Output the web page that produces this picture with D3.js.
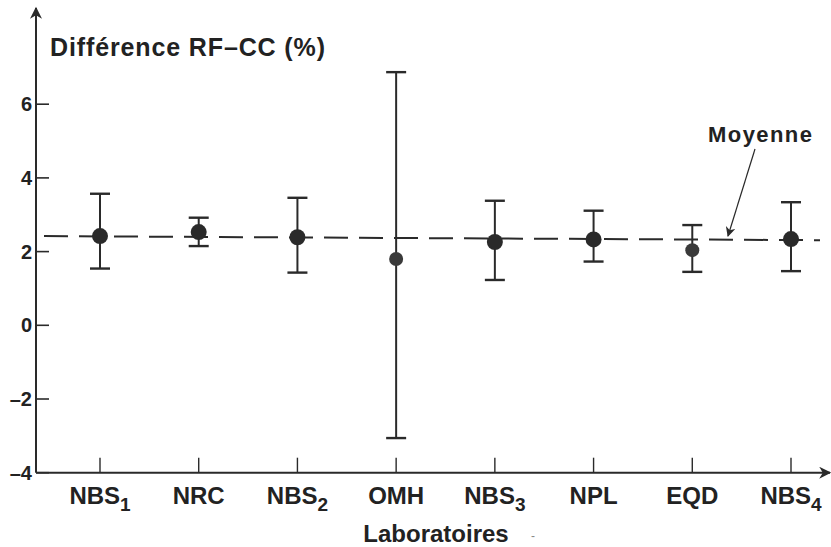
<!DOCTYPE html>
<meta charset="utf-8">
<script src="https://d3js.org/d3.v7.min.js"></script>
<style>
body { margin: 0; background: #fff; }
text { fill: #222; font-family: "Liberation Sans", Arial, sans-serif; }
.lbl { font-weight: bold; }
.narrow { font-family: "Liberation Sans Narrow", "Liberation Sans", sans-serif; }
</style>
<body>
<script>
// data
var labs = ['NBS1', 'NRC', 'NBS2', 'OMH', 'NBS3', 'NPL', 'EQD', 'NBS4'];
var labBase = ['NBS', 'NRC', 'NBS', 'OMH', 'NBS', 'NPL', 'EQD', 'NBS'];
var labSub = ['1', '', '2', '', '3', '', '', '4'];
var diff = [2.42, 2.53, 2.39, 1.80, 2.26, 2.33, 2.04, 2.34];
var upper = [3.57, 2.92, 3.46, 6.87, 3.38, 3.11, 2.72, 3.34];
var lower = [1.54, 2.15, 1.43, -3.06, 1.23, 1.73, 1.45, 1.47];
var moyenne = [2.42, 2.31]; // dashed mean line, left end / right end
var yTicks = [6, 4, 2, 0, -2, -4];

var W = 831, H = 547;
var svg = d3.select('body').append('svg')
    .attr('width', W)
    .attr('height', H);

var x = d3.scalePoint().domain(labs).range([100, 791]);
var y = d3.scaleLinear().domain([-4, 6]).range([472.7, 104.2]);
var x0 = 36, xEnd = 830;
var ink = '#2a2a2a';

// arrow markers
var defs = svg.append('defs');
defs.append('marker')
    .attr('id', 'ah')
    .attr('viewBox', '0 0 10 10')
    .attr('refX', 9).attr('refY', 5)
    .attr('markerWidth', 10).attr('markerHeight', 10)
    .attr('markerUnits', 'userSpaceOnUse')
    .attr('orient', 'auto')
    .append('path')
    .attr('d', 'M0,0 L10,5 L0,10 L3,5 Z')
    .attr('fill', ink);
defs.append('marker')
    .attr('id', 'ahBig')
    .attr('viewBox', '0 0 10 10')
    .attr('refX', 9).attr('refY', 5)
    .attr('markerWidth', 18).attr('markerHeight', 12)
    .attr('markerUnits', 'userSpaceOnUse')
    .attr('orient', 'auto')
    .append('path')
    .attr('d', 'M0,0 L10,5 L0,10 L3,5 Z')
    .attr('fill', ink);

// y axis
svg.append('line')
    .attr('x1', x0).attr('y1', y(-4))
    .attr('x2', x0).attr('y2', 8)
    .attr('stroke', ink).attr('stroke-width', 2)
    .attr('marker-end', 'url(#ahBig)');

var yt = svg.append('g');
yt.selectAll('line').data(yTicks).enter().append('line')
    .attr('x1', x0).attr('x2', x0 + 13)
    .attr('y1', function(d) { return y(d); })
    .attr('y2', function(d) { return y(d); })
    .attr('stroke', ink).attr('stroke-width', 1.6);
yt.selectAll('text').data(yTicks).enter().append('text')
    .attr('class', 'lbl')
    .attr('x', x0 - 4)
    .attr('y', function(d) { return y(d) + 7; })
    .attr('text-anchor', 'end')
    .style('font-size', '20px')
    .text(function(d) { return d < 0 ? '\u2013' + (-d) : d; });

// x axis
svg.append('line')
    .attr('x1', x0).attr('y1', y(-4))
    .attr('x2', xEnd).attr('y2', y(-4))
    .attr('stroke', ink).attr('stroke-width', 2)
    .attr('marker-end', 'url(#ahBig)');

var xt = svg.append('g');
xt.selectAll('line').data(labs).enter().append('line')
    .attr('x1', function(d) { return x(d); })
    .attr('x2', function(d) { return x(d); })
    .attr('y1', y(-4)).attr('y2', y(-4) - 15)
    .attr('stroke', ink).attr('stroke-width', 1.4);
var xl = xt.selectAll('text').data(labs).enter().append('text')
    .attr('class', 'narrow')
    .attr('x', function(d) { return x(d); })
    .attr('y', 504)
    .attr('text-anchor', 'middle')
    .style('font-size', '24px')
    .style('font-weight', 'bold');
xl.append('tspan').text(function(d, i) { return labBase[i]; });
xl.append('tspan')
    .attr('dy', 7)
    .style('font-size', '19px')
    .text(function(d, i) { return labSub[i]; });

svg.append('text')
    .attr('class', 'lbl narrow')
    .attr('x', 436).attr('y', 542)
    .attr('text-anchor', 'middle')
    .style('font-size', '24px')
    .text('Laboratoires');
svg.append('text')
    .attr('x', 531).attr('y', 540)
    .style('font-size', '12px')
    .style('fill', '#888')
    .text('-');

// title
svg.append('text')
    .attr('class', 'lbl')
    .attr('x', 50).attr('y', 56)
    .attr('textLength', 275)
    .style('font-size', '25px')
    .text('Différence RF\u2013CC (%)');

// mean line
svg.append('line')
    .attr('x1', 44).attr('y1', y(moyenne[0]))
    .attr('x2', 820).attr('y2', y(moyenne[1]))
    .attr('stroke', ink).attr('stroke-width', 2)
    .attr('stroke-dasharray', '24,11');

svg.append('text')
    .attr('class', 'lbl')
    .attr('x', 708).attr('y', 142)
    .attr('textLength', 104)
    .style('font-size', '22px')
    .text('Moyenne');
svg.append('line')
    .attr('x1', 755).attr('y1', 149)
    .attr('x2', 728).attr('y2', 236)
    .attr('stroke', ink).attr('stroke-width', 1.2)
    .attr('marker-end', 'url(#ah)');

// error bars
var g = svg.append('g');
g.selectAll('.bar').data(labs).enter().append('line')
    .attr('x1', function(d) { return x(d); })
    .attr('x2', function(d) { return x(d); })
    .attr('y1', function(d, i) { return y(upper[i]); })
    .attr('y2', function(d, i) { return y(lower[i]); })
    .attr('stroke', ink).attr('stroke-width', 2);
[upper, lower].forEach(function(arr) {
    g.selectAll(null).data(labs).enter().append('line')
        .attr('x1', function(d) { return x(d) - 10; })
        .attr('x2', function(d) { return x(d) + 10; })
        .attr('y1', function(d, i) { return y(arr[i]); })
        .attr('y2', function(d, i) { return y(arr[i]); })
        .attr('stroke', ink).attr('stroke-width', 2.4);
});
g.selectAll('circle').data(labs).enter().append('circle')
    .attr('cx', function(d) { return x(d); })
    .attr('cy', function(d, i) { return y(diff[i]); })
    .attr('r', function(d, i) { return (i == 3 || i == 6) ? 7 : 8; })
    .attr('fill', function(d, i) { return (i == 3 || i == 6) ? '#3a3a3a' : '#2a2a2a'; });
</script>
</body>
</html>
